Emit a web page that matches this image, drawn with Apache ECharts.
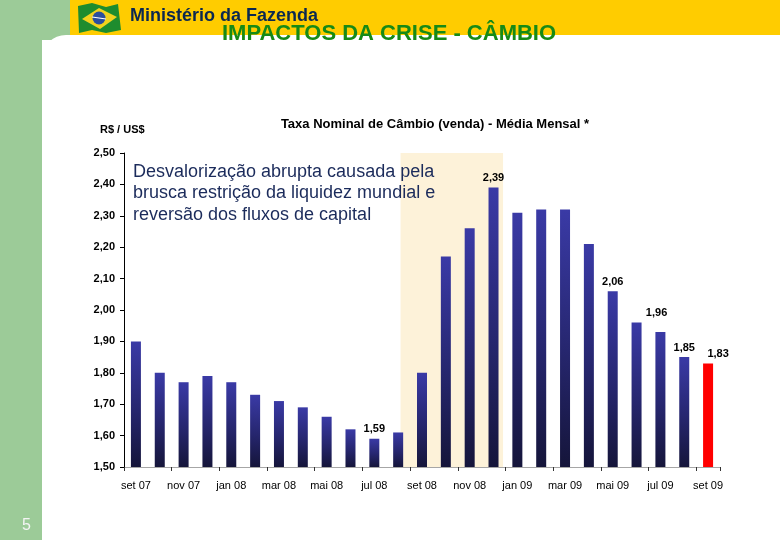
<!DOCTYPE html>
<html>
<head>
<meta charset="utf-8">
<script src="https://cdn.jsdelivr.net/npm/echarts@6/dist/echarts.min.js"></script>
<style>
html,body{margin:0;padding:0;background:#fff;}
#chart{width:780px;height:540px;}
</style>
</head>
<body>
<div id="chart"></div>
<script>
// ---- data ----
const months = ['set 07','out 07','nov 07','dez 07','jan 08','fev 08','mar 08','abr 08','mai 08','jun 08','jul 08','ago 08',
  'set 08','out 08','nov 08','dez 08','jan 09','fev 09','mar 09','abr 09','mai 09','jun 09','jul 09','ago 09','set 09'];
const rates = [1.90,1.80,1.77,1.79,1.77,1.73,1.71,1.69,1.66,1.62,1.59,1.61,
  1.80,2.17,2.26,2.39,2.31,2.32,2.32,2.21,2.06,1.96,1.93,1.85,1.83];
const labeledMonths = ['jul 08','dez 08','mai 09','jun 09','ago 09','set 09'];
const highlightMonth = 'set 09';
const crisisStart = 11.1;   // in month-index units
const crisisEnd = 15.4;
const yMin = 1.5, yMax = 2.5, yStep = 0.1;

const headerTitle = 'Ministério da Fazenda';
const slideTitle = 'IMPACTOS DA CRISE - CÂMBIO';
const chartTitle = 'Taxa Nominal de Câmbio (venda) - Média Mensal *';
const unitLabel = 'R$ / US$';
const noteLines = ['Desvalorização abrupta causada pela', 'brusca restrição da liquidez mundial e', 'reversão dos fluxos de capital'];
const pageNumber = '5';

// ---- chart ----
const fmt = v => v.toFixed(2).replace('.', ',');
const barGradient = new echarts.graphic.LinearGradient(0, 0, 0, 1, [
  {offset: 0, color: '#3A3AA6'},
  {offset: 0.55, color: '#26266E'},
  {offset: 1, color: '#15153A'}
]);
const labelOffsets = {'jun 09': [20, 0], 'set 09': [10, 0]};

const barData = months.map((m, i) => {
  const item = {value: rates[i]};
  if (m === highlightMonth) item.itemStyle = {color: '#FF0000'};
  if (labeledMonths.includes(m)) {
    item.label = {show: true, offset: labelOffsets[m] || [0, 0]};
  }
  return item;
});

const chart = echarts.init(document.getElementById('chart'), null, {renderer: 'canvas'});
chart.setOption({
  backgroundColor: '#ffffff',
  animation: false,
  textStyle: {fontFamily: 'Liberation Sans, Arial, sans-serif'},
  title: [
    {text: chartTitle, left: 430, top: 113, textAlign: 'center',
     textStyle: {fontSize: 13, fontWeight: 'bold', color: '#000'}},
    {text: unitLabel, left: 95, top: 119,
     textStyle: {fontSize: 11, fontWeight: 'bold', color: '#000'}}
  ],
  grid: {left: 124, right: 60, top: 153, bottom: 73},
  xAxis: [
    {type: 'category', data: months,
     axisLine: {lineStyle: {color: '#A6A6A6', width: 1}},
     axisTick: {show: true, interval: 1, length: 4, lineStyle: {color: '#333'}},
     axisLabel: {interval: 1, margin: 13, fontSize: 11, color: '#000'}},
    {type: 'value', min: -0.5, max: months.length - 0.5, show: false}
  ],
  yAxis: {
    type: 'value', min: yMin, max: yMax, interval: yStep,
    axisLine: {show: true, onZero: false, lineStyle: {color: '#000', width: 1}},
    axisTick: {show: true, length: 4, lineStyle: {color: '#000'}},
    axisLabel: {fontSize: 11, fontWeight: 'bold', color: '#000', margin: 9, formatter: fmt},
    splitLine: {show: false}
  },
  graphic: [
    {type: 'rect', shape: {x: 0, y: 0, width: 42, height: 540}, style: {fill: '#9CCB98'}, z: -10},
    {type: 'rect', shape: {x: 0, y: 0, width: 72, height: 40}, style: {fill: '#9CCB98'}, z: -10},
    {type: 'rect', shape: {x: 70, y: 0, width: 710, height: 36}, style: {fill: '#FFCC00'}, z: -10},
    {type: 'rect', shape: {x: 42, y: 35, width: 760, height: 520, r: [24, 0, 0, 0]}, style: {fill: '#FFFFFF'}, z: -9},
    // flag
    {type: 'polygon', shape: {points: [[78,6],[92,3],[106,7],[118,4],[121,30],[106,33],[92,30],[79,33]]}, style: {fill: '#1E8C2E'}, z: -8},
    {type: 'polygon', shape: {points: [[82,19],[99,8],[117,17],[100,29]]}, style: {fill: '#F2D21C'}, z: -8},
    {type: 'circle', shape: {cx: 99, cy: 18, r: 6.5}, style: {fill: '#2B4E9E'}, z: -8},
    {type: 'line', shape: {x1: 92, y1: 17, x2: 106, y2: 19}, style: {stroke: '#FFFFFF', lineWidth: 1.2}, z: -8},
    {type: 'text', left: 130, top: 7, style: {text: headerTitle, font: 'bold 18px "Liberation Sans", Arial, sans-serif', fill: '#0B2850'}, z: -7},
    {type: 'text', left: 222, top: 23, style: {text: slideTitle, font: 'bold 22px "Liberation Sans", Arial, sans-serif', fill: '#168A16'}, z: -7},
    {type: 'text', left: 133, top: 161, style: {text: noteLines.join('\n'), font: '18px "Liberation Sans", Arial, sans-serif', lineHeight: 21.5, fill: '#1B2B5B'}, z: 10},
    {type: 'text', left: 22, top: 518, style: {text: pageNumber, font: '16px "Liberation Sans", Arial, sans-serif', fill: '#F4F4F4'}, z: -7}
  ],
  series: [
    {type: 'line', xAxisIndex: 1, yAxisIndex: 0, data: [], silent: true, z: 1,
     markArea: {silent: true, itemStyle: {color: '#FDF2D9'},
       data: [[{xAxis: crisisStart}, {xAxis: crisisEnd}]]}},
    {type: 'bar', xAxisIndex: 0, yAxisIndex: 0, data: barData, barWidth: 10, z: 2,
     itemStyle: {color: barGradient},
     label: {show: false, position: 'top', distance: 4, fontSize: 11, fontWeight: 'bold', color: '#000',
       formatter: p => fmt(p.value)}}
  ]
});
</script>
</body>
</html>
